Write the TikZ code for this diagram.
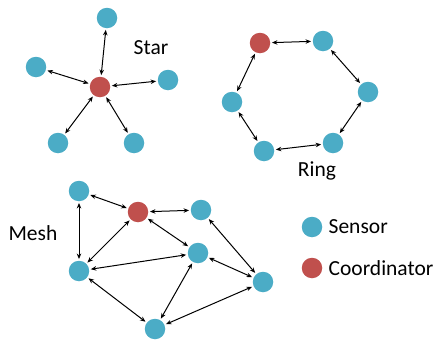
\documentclass[tikz,border=0pt]{standalone}
\usepackage{fontspec}
\setmainfont{Carlito}
\usetikzlibrary{arrows.meta,positioning}
\definecolor{sensorblue}{HTML}{4BACC6}
\definecolor{coordred}{HTML}{C0504D}
\tikzset{
  sensor/.style={circle,fill=sensorblue,inner sep=0pt,minimum size=20.5pt},
  coord/.style={circle,fill=coordred,inner sep=0pt,minimum size=20.5pt},
  link/.style={{Stealth[length=5.5pt,width=4.5pt]}-{Stealth[length=5.5pt,width=4.5pt]},line width=1pt,shorten >=1.5pt,shorten <=1.5pt},
  title/.style={font=\fontsize{21.5}{26}\selectfont,inner sep=0pt}
}
\begin{document}
\begin{tikzpicture}[x=1pt,y=-1pt]
    \useasboundingbox (0,0) rectangle (440,343);
    %% Star
    \node[coord] (sc) at (100,87) {};
    \node[sensor] (s1) at (107,18) {};
    \node[sensor] (s2) at (36,67) {};
    \node[sensor] (s3) at (168,80) {};
    \node[sensor] (s4) at (58,143) {};
    \node[sensor] (s5) at (134,143) {};
    \foreach \n in {s1,s2,s3,s4,s5} \draw[link] (sc) -- (\n);
    \node[title] (startitle) at (151,48) {Star};
    %% Ring
    \node[coord] (r1) at (260,43) {};
    \node[sensor] (r2) at (323,41) {};
    \node[sensor] (r3) at (368,92) {};
    \node[sensor] (r4) at (333,143) {};
    \node[sensor] (r5) at (264,151) {};
    \node[sensor] (r6) at (232,102) {};
    \draw[link] (r1) -- (r2);
    \draw[link] (r2) -- (r3);
    \draw[link] (r3) -- (r4);
    \draw[link] (r4) -- (r5);
    \draw[link] (r5) -- (r6);
    \draw[link] (r6) -- (r1);
    \node[title] (ringtitle) at (317,171) {Ring};
    %% Mesh
    \node[sensor] (m1) at (79,191) {};
    \node[coord] (mc) at (138,212) {};
    \node[sensor] (m2) at (201,210) {};
    \node[sensor] (m3) at (198,253) {};
    \node[sensor] (m4) at (79,271) {};
    \node[sensor] (m5) at (263,282) {};
    \node[sensor] (m6) at (155,329) {};
    \draw[link] (m1) -- (mc);
    \draw[link] (m1) -- (m4);
    \draw[link] (mc) -- (m2);
    \draw[link] (mc) -- (m4);
    \draw[link] (mc) -- (m3);
    \draw[link] (m4) -- (m3);
    \draw[link] (m4) -- (m6);
    \draw[link] (m3) -- (m6);
    \draw[link] (m3) -- (m5);
    \draw[link] (m2) -- (m5);
    \draw[link] (m6) -- (m5);
    \node[title] (meshtitle) at (33,233) {Mesh};
    %% Legend
    \node[sensor] (ls) at (312,227) {};
    \node[coord] (lc) at (312,268) {};
    \node[title,anchor=west,right=6pt of ls] (lstext) {Sensor};
    \node[title,anchor=west,right=6pt of lc] (lctext) {Coordinator};
\end{tikzpicture}
\end{document}
